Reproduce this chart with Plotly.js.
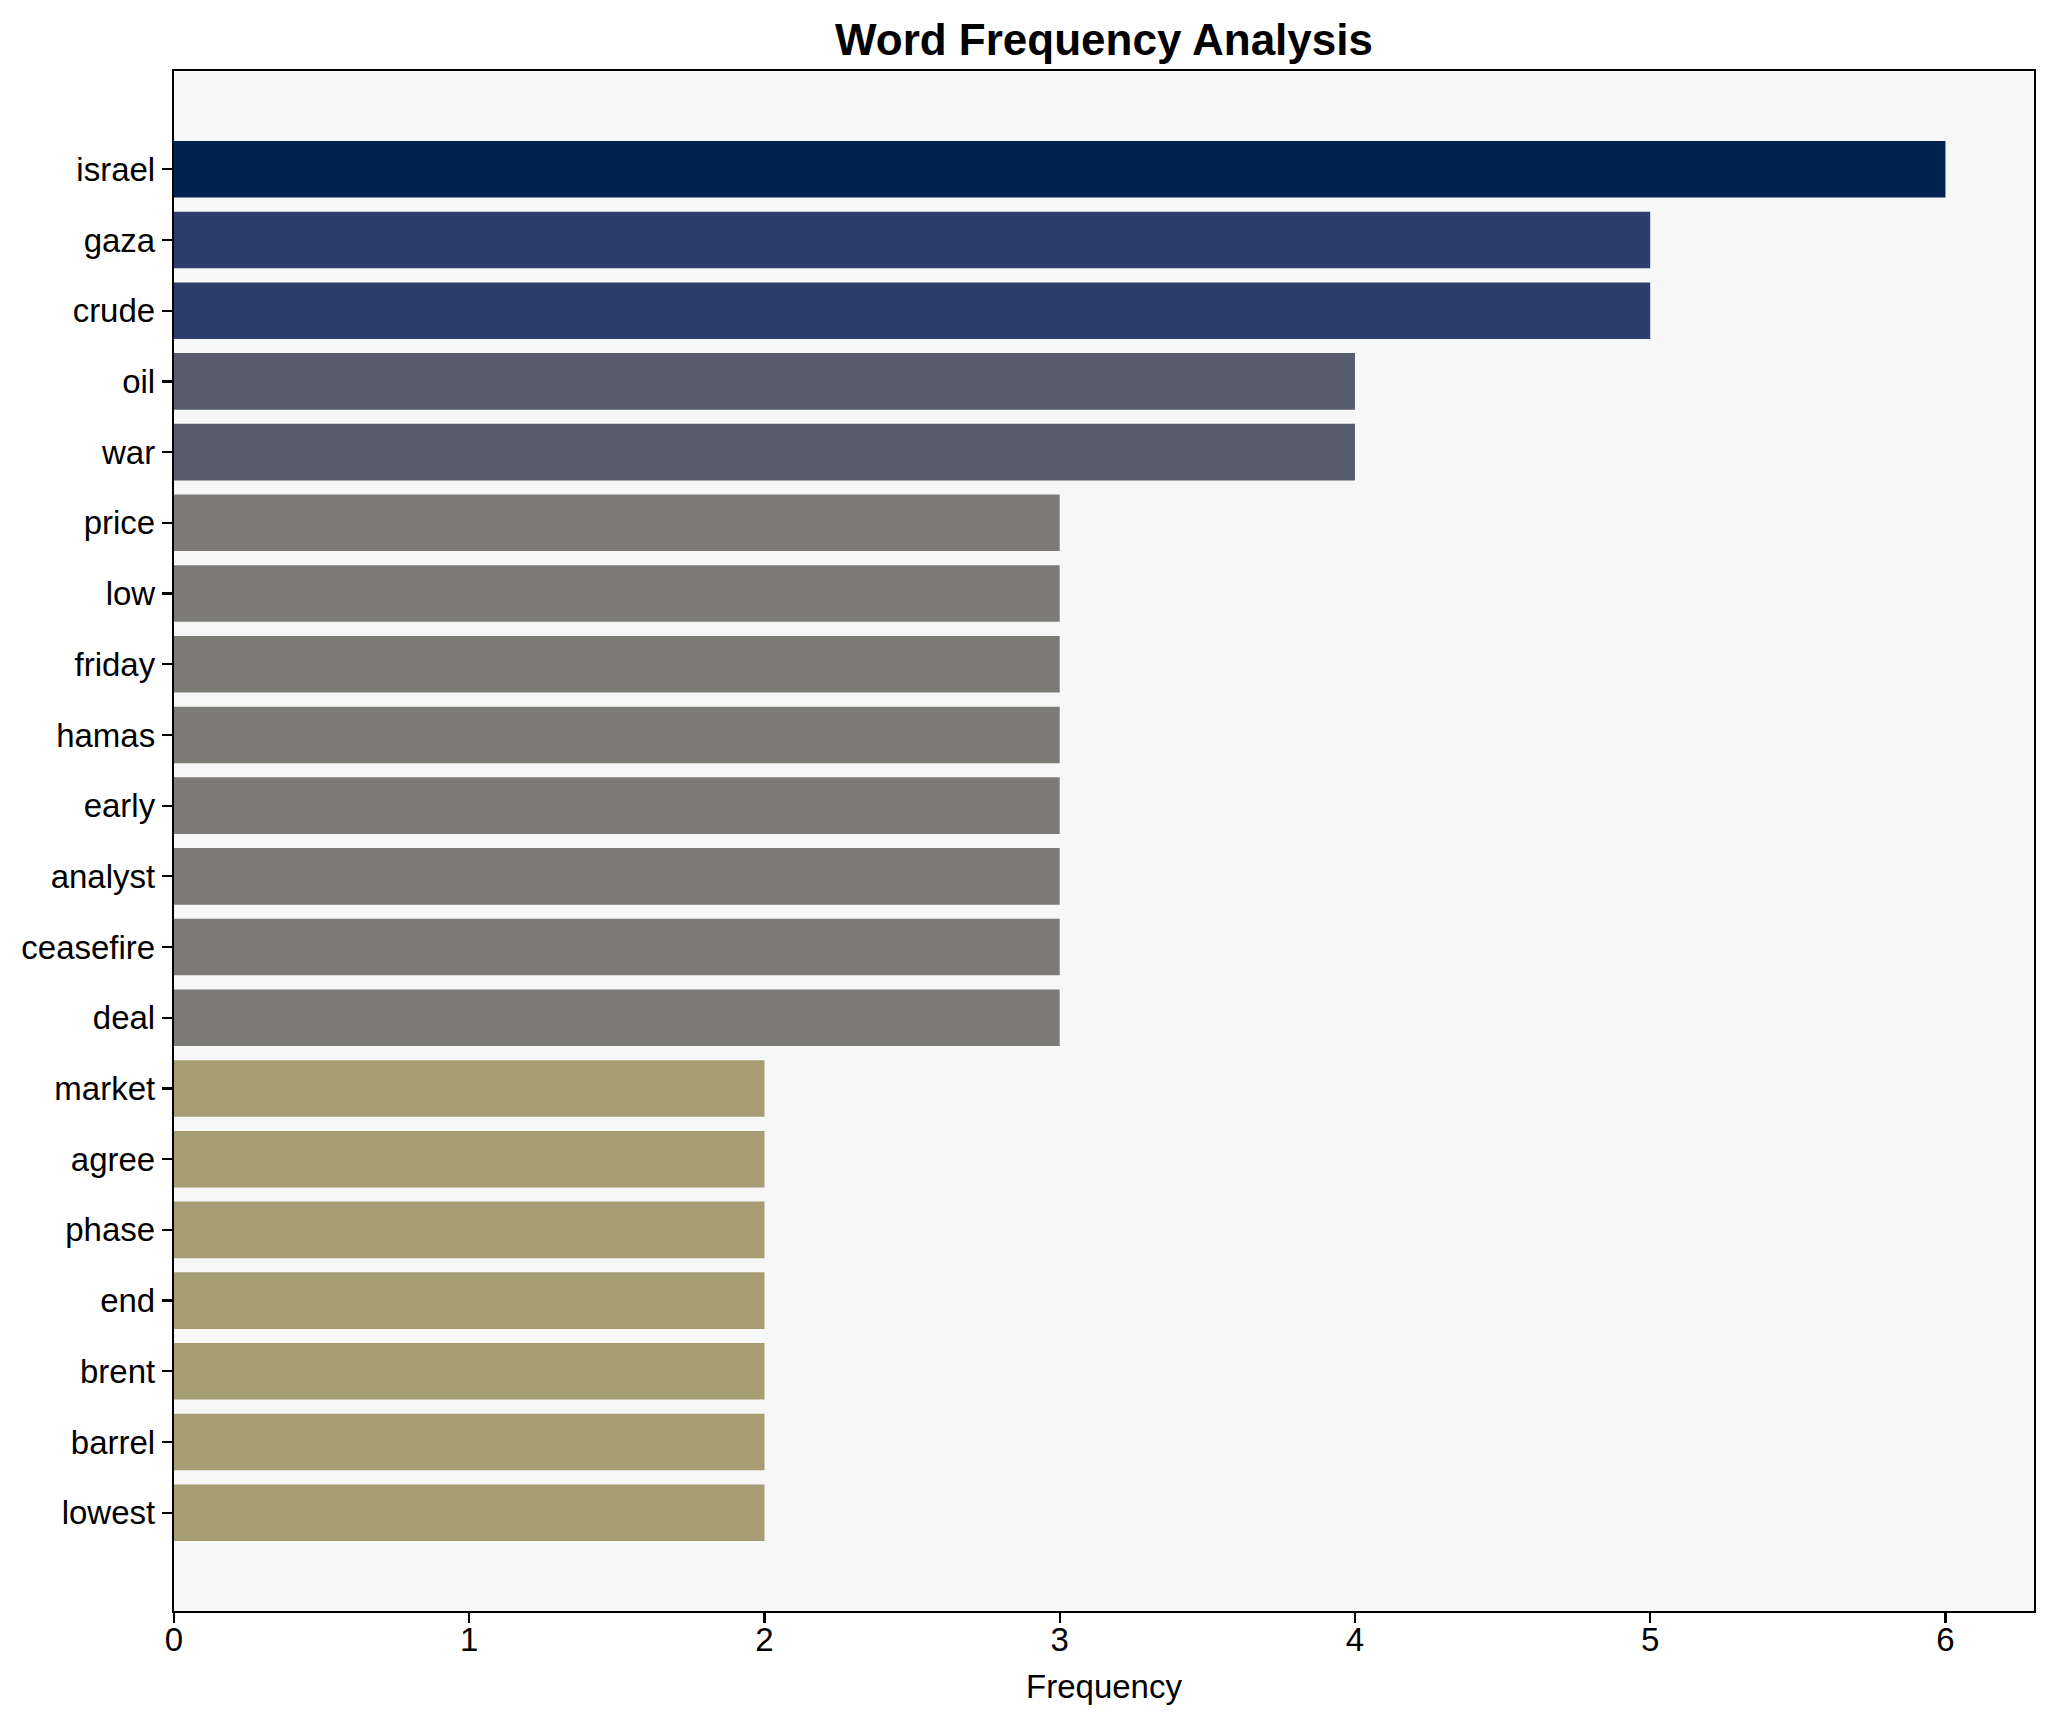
<!DOCTYPE html>
<html>
<head>
<meta charset="utf-8">
<script src="https://cdn.plot.ly/plotly-3.0.1.min.js"></script>
<style>
  html, body { margin: 0; padding: 0; background: #ffffff; }
  #chart { width: 2054px; height: 1722px; }
</style>
</head>
<body>
<div id="chart"></div>
<script>
// Data
const words = ["israel", "gaza", "crude", "oil", "war", "price", "low", "friday", "hamas", "early",
               "analyst", "ceasefire", "deal", "market", "agree", "phase", "end", "brent", "barrel", "lowest"];
const frequencies = [6, 5, 5, 4, 4, 3, 3, 3, 3, 3, 3, 3, 3, 2, 2, 2, 2, 2, 2, 2];

// Colour per frequency level (cividis-like)
const levelColors = { 6: "#00224E", 5: "#2C3E6C", 4: "#575D6D", 3: "#7C7B78", 2: "#A69D75" };
const barColors = frequencies.map(v => levelColors[v]);

const fontFamily = "Arial, 'Liberation Sans', Helvetica, sans-serif";

const trace = {
  type: "bar",
  orientation: "h",
  x: frequencies,
  y: words,
  width: 0.8,
  marker: { color: barColors, line: { width: 0 } },
  hoverinfo: "x+y"
};

const n = words.length;
const layout = {
  width: 2054,
  height: 1722,
  paper_bgcolor: "#ffffff",
  plot_bgcolor: "#f7f7f7",
  margin: { l: 174, r: 20, t: 71, b: 111 },
  showlegend: false,
  title: {
    text: "<b>Word Frequency Analysis</b>",
    font: { family: fontFamily, size: 44, color: "#000000" },
    x: 0.5, xref: "paper", xanchor: "center",
    y: 1 - 40 / 1722, yref: "container", yanchor: "middle"
  },
  xaxis: {
    range: [0, 6.3],
    tickvals: [0, 1, 2, 3, 4, 5, 6],
    ticktext: ["0", "1", "2", "3", "4", "5", "6"],
    showgrid: false,
    zeroline: false,
    showline: true, mirror: true, linecolor: "#000000", linewidth: 2.2,
    ticks: "outside", ticklen: 10, tickwidth: 2.2, tickcolor: "#000000",
    ticklabelstandoff: -12,
    tickfont: { family: fontFamily, size: 33, color: "#000000" },
    title: { text: "Frequency", font: { family: fontFamily, size: 33, color: "#000000" }, standoff: 18 }
  },
  yaxis: {
    type: "category",
    range: [n - 1 + 1.39, -1.39],
    showgrid: false,
    zeroline: false,
    showline: true, mirror: true, linecolor: "#000000", linewidth: 2.2,
    ticks: "outside", ticklen: 10, tickwidth: 2.2, tickcolor: "#000000",
    tickfont: { family: fontFamily, size: 33, color: "#000000" }
  }
};

Plotly.newPlot("chart", [trace], layout, { displayModeBar: false, staticPlot: true });
</script>
</body>
</html>
